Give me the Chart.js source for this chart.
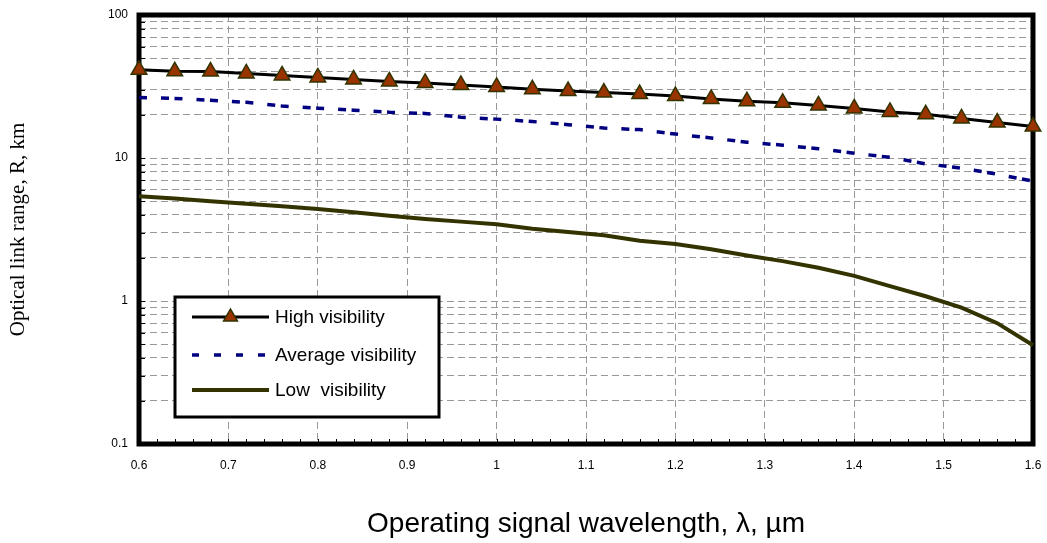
<!DOCTYPE html>
<html><head><meta charset="utf-8">
<script src="https://cdn.jsdelivr.net/npm/chart.js@4/dist/chart.umd.min.js"></script>
<style>html,body{margin:0;padding:0;background:#fff}#wrap{width:1047px;height:543px;position:relative}</style>
</head><body><div id="wrap"><canvas id="c"></canvas></div>
<script>
const wavelengths = [0.6,0.64,0.68,0.72,0.76,0.8,0.84,0.88,0.92,0.96,1.0,1.04,1.08,1.12,1.16,1.2,1.24,1.28,1.32,1.36,1.4,1.44,1.48,1.52,1.56,1.6];
const highVisibility = [41.4,40.4,40.2,39.0,37.8,36.6,35.4,34.3,33.5,32.4,31.4,30.2,29.4,28.7,28.0,27.1,25.9,24.9,24.3,23.3,22.2,21.0,20.2,18.9,17.7,16.6];
const averageVisibility = [26.5,26.1,25.3,24.5,23.1,22.3,21.6,20.9,20.5,19.3,18.7,18.0,17.1,16.2,15.8,14.7,13.8,12.9,12.3,11.6,10.8,10.1,9.1,8.5,7.7,6.9];
const lowVisibility = [5.4,5.2,4.99,4.79,4.59,4.4,4.17,3.95,3.75,3.59,3.44,3.2,3.04,2.88,2.64,2.5,2.3,2.08,1.9,1.71,1.5,1.27,1.08,0.9,0.7,0.49];
const seriesLabels = ['High visibility','Average visibility','Low  visibility'];
const xTickValues = [0.6,0.7,0.8,0.9,1.0,1.1,1.2,1.3,1.4,1.5,1.6];
const xTickLabels = ['0.6','0.7','0.8','0.9','1','1.1','1.2','1.3','1.4','1.5','1.6'];
const yTickLabels = ['0.1','1','10','100'];
const xTitle = 'Operating signal wavelength, \u03bb, \u00b5m';
const yTitle = 'Optical link range, R, km';

const pts = arr => wavelengths.map((w, i) => ({x: w, y: arr[i]}));
const SANS = "Arial, 'Liberation Sans', sans-serif";
const SERIF = "'Times New Roman', 'Liberation Serif', serif";

const framePlugin = {
  id: 'frame',
  beforeDatasetsDraw(chart) {
    const {ctx, chartArea: a, scales} = chart;
    ctx.save();
    ctx.strokeStyle = '#000';
    ctx.lineWidth = 1;
    ctx.beginPath();
    for (let k = 0; k <= 50; k++) {
      const px = Math.round(scales.x.getPixelForValue(0.6 + k * 0.02)) + 0.5;
      ctx.moveTo(px, a.bottom);
      ctx.lineTo(px, a.bottom - 5);
    }
    scales.y.ticks.forEach(t => {
      const py = Math.round(scales.y.getPixelForValue(t.value)) + 0.5;
      ctx.moveTo(a.left, py);
      ctx.lineTo(a.left + 6, py);
    });
    ctx.stroke();
    ctx.lineWidth = 5;
    ctx.strokeRect(a.left, a.top, a.right - a.left, a.bottom - a.top);
    ctx.restore();
  },
  afterDatasetsDraw(chart) {
    const ctx = chart.ctx;
    const ds = chart.data.datasets;
    ctx.save();
    const bx = 175, by = 297, bw = 264, bh = 120;
    ctx.fillStyle = '#fff';
    ctx.fillRect(bx, by, bw, bh);
    ctx.lineWidth = 3;
    ctx.strokeStyle = '#000';
    ctx.strokeRect(bx, by, bw, bh);
    const rows = [317, 355, 390];
    const x0 = 192, x1 = 269;
    ds.forEach((d, i) => {
      const y = rows[i];
      ctx.beginPath();
      ctx.strokeStyle = d.borderColor;
      ctx.lineWidth = d.borderWidth;
      ctx.setLineDash(i === 1 ? [7, 15] : []);
      ctx.moveTo(x0, y);
      ctx.lineTo(x1, y);
      ctx.stroke();
      ctx.setLineDash([]);
      if (i === 0) {
        const r = 8, cx = (x0 + x1) / 2;
        ctx.beginPath();
        ctx.moveTo(cx, y - r);
        ctx.lineTo(cx + r * 0.866, y + r * 0.5);
        ctx.lineTo(cx - r * 0.866, y + r * 0.5);
        ctx.closePath();
        ctx.fillStyle = d.pointBackgroundColor;
        ctx.fill();
        ctx.lineWidth = d.pointBorderWidth;
        ctx.strokeStyle = d.pointBorderColor;
        ctx.stroke();
      }
      ctx.fillStyle = '#000';
      ctx.font = '19px ' + SANS;
      ctx.textBaseline = 'middle';
      ctx.textAlign = 'left';
      ctx.fillText(d.label, 275, y + 1);
    });
    ctx.restore();
  }
};

new Chart(document.getElementById('c'), {
  type: 'line',
  data: {
    datasets: [
      {label: seriesLabels[0], data: pts(highVisibility), borderColor: '#000', borderWidth: 3,
       pointStyle: 'triangle', pointRadius: 9, pointBackgroundColor: '#993300', pointBorderColor: '#333300',
       pointBorderWidth: 1.5, tension: 0, clip: false},
      {label: seriesLabels[1], data: pts(averageVisibility), borderColor: '#000080', borderWidth: 3.5,
       borderDash: [8, 14, 8, 5.5], pointRadius: 0, tension: 0, clip: false},
      {label: seriesLabels[2], data: pts(lowVisibility), borderColor: '#333300', borderWidth: 4,
       pointRadius: 0, tension: 0, clip: false}
    ]
  },
  options: {
    responsive: true, maintainAspectRatio: false, animation: false, devicePixelRatio: 1,
    layout: {padding: {left: 0, top: 15, right: 14, bottom: 0}},
    plugins: {legend: {display: false}, tooltip: {enabled: false}},
    scales: {
      x: {
        type: 'linear', min: 0.6, max: 1.6,
        afterBuildTicks: s => { s.ticks = xTickValues.map(v => ({value: v})); },
        afterFit: s => { s.height = 99; s.paddingLeft = 0; s.paddingRight = 0; },
        ticks: {color: '#000', font: {family: SANS, size: 12}, padding: 14, maxRotation: 0,
                callback: (v, i) => xTickLabels[i]},
        grid: {color: '#999', lineWidth: 1, drawTicks: false},
        border: {display: false, dash: [7, 4]},
        title: {display: true, text: xTitle, color: '#000', font: {family: SANS, size: 28}, padding: {top: 0, bottom: 2}}
      },
      y: {
        type: 'logarithmic', min: 0.1, max: 100,
        afterBuildTicks: s => {
          s.ticks = s.ticks.filter(t => {
            const m = t.value / Math.pow(10, Math.floor(Math.log10(t.value) + 1e-9));
            return Math.abs(m - Math.round(m)) < 1e-6;
          });
        },
        afterFit: s => { s.width = 139; s.paddingTop = 0; s.paddingBottom = 0; },
        ticks: {color: '#000', font: {family: SANS, size: 12}, padding: 11, autoSkip: false,
                callback: v => { const l = String(Number(v.toPrecision(3))); return yTickLabels.includes(l) ? l : ''; }},
        grid: {color: '#999', lineWidth: 1, drawTicks: false},
        border: {display: false, dash: [7, 4]},
        title: {display: true, text: yTitle, color: '#000', font: {family: SERIF, size: 21}, padding: {top: 6, bottom: 0}}
      }
    }
  },
  plugins: [framePlugin]
});
</script></body></html>
